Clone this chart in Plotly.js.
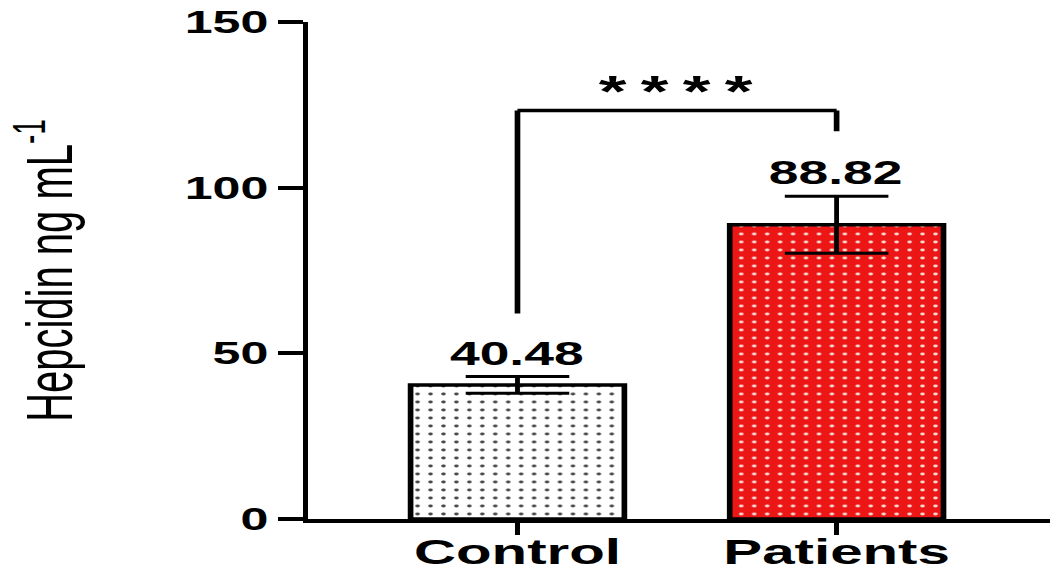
<!DOCTYPE html>
<html>
<head>
<meta charset="utf-8">
<script src="https://cdn.plot.ly/plotly-3.0.1.min.js"></script>
<style>
  html, body { margin: 0; padding: 0; background: #ffffff; overflow: hidden; }
  #wrap { width: 1052px; height: 571px; overflow: hidden; }
  /* the reference raster is stretched horizontally; draw narrower and stretch the same way */
  #chart { width: 650px; height: 571px; transform: scaleX(1.6185); transform-origin: 0 0; }
</style>
</head>
<body>
<div id="wrap"><div id="chart"></div></div>
<script>
// ---- data ----
const categories = ['Control', 'Patients'];
const means = [40.48, 88.82];
const sem = [2.5, 8.6];
const valueLabels = ['40.48', '88.82'];
const yTickValues = [0, 50, 100, 150];
const yTickLabels = ['0', '50', '100', '150'];
const bracketFeet = [62, 117];      // y where the bracket legs end (Control, Patients)
const bracketTop = 123.3;           // y of the bracket bar
const sigText = '*\u2009*\u2009*\u2009*';
const sigY = 129;

// styles (one per group)
const fillColors = ['#ffffff', '#ec1616'];
const dotColors = ['#4a4a4a', '#f2d8cc'];

const FONT = 'Liberation Sans, Arial, Helvetica, sans-serif';

const traces = categories.map((c, i) => ({
  type: 'bar',
  name: c,
  x: [c],
  y: [means[i]],
  width: 0.67,
  marker: {
    color: fillColors[i],
    line: { color: '#000000', width: 3.5 },
    pattern: {
      shape: '.',
      fillmode: 'replace',
      bgcolor: fillColors[i],
      fgcolor: dotColors[i],
      size: 8,
      solidity: 0.1
    }
  },
  error_y: {
    type: 'data',
    array: [sem[i]],
    visible: true,
    color: '#000000',
    thickness: 3,
    width: 32
  },
  hoverinfo: 'x+y'
}));

const annotations = categories.map((c, i) => ({
  x: c, y: means[i] + sem[i], xref: 'x', yref: 'y',
  text: valueLabels[i], showarrow: false,
  yanchor: 'bottom', yshift: 3,
  font: { family: FONT, size: 33, color: '#000000', weight: 'bold' }
}));
annotations.push({
  x: 0.5, y: sigY, xref: 'x', yref: 'y',
  text: sigText, showarrow: false, yanchor: 'middle',
  font: { family: FONT, size: 44, color: '#000000', weight: 'bold' }
});

const shapes = [
  { type: 'line', xref: 'x', yref: 'y', x0: 0, x1: 0, y0: bracketFeet[0], y1: bracketTop, line: { color: '#000', width: 3.5 } },
  { type: 'line', xref: 'x', yref: 'y', x0: 0, x1: 1, y0: bracketTop, y1: bracketTop, line: { color: '#000', width: 3.5 } },
  { type: 'line', xref: 'x', yref: 'y', x0: 1, x1: 1, y0: bracketTop, y1: bracketFeet[1], line: { color: '#000', width: 3.5 } }
];

const layout = {
  width: 650, height: 571,
  margin: { l: 190, r: 1, t: 22, b: 52, pad: 0 },
  paper_bgcolor: '#ffffff', plot_bgcolor: '#ffffff',
  showlegend: false,
  barmode: 'overlay',
  xaxis: {
    type: 'category',
    categoryarray: categories, categoryorder: 'array',
    range: [-0.658, 1.67],
    showline: true, linecolor: '#000', linewidth: 4,
    ticks: 'outside', ticklen: 12, tickwidth: 2.6, tickcolor: '#000',
    ticklabelstandoff: -14,
    showgrid: false, zeroline: false,
    tickfont: { family: FONT, size: 36, color: '#000', weight: 'bold' },
    fixedrange: true
  },
  yaxis: {
    range: [0, 150],
    tickvals: yTickValues, ticktext: yTickLabels,
    showline: true, linecolor: '#000', linewidth: 3,
    ticks: 'outside', ticklen: 15, tickwidth: 4, tickcolor: '#000',
    showgrid: false, zeroline: false,
    tickfont: { family: FONT, size: 31, color: '#000', weight: 'bold' },
    title: { text: 'Hepcidin ng mL<sup>-1</sup>', standoff: 57,
             font: { family: FONT, size: 40, color: '#000' } },
    automargin: false,
    fixedrange: true
  },
  annotations: annotations,
  shapes: shapes
};

Plotly.newPlot('chart', traces, layout, { displayModeBar: false, staticPlot: true });
</script>
</body>
</html>
